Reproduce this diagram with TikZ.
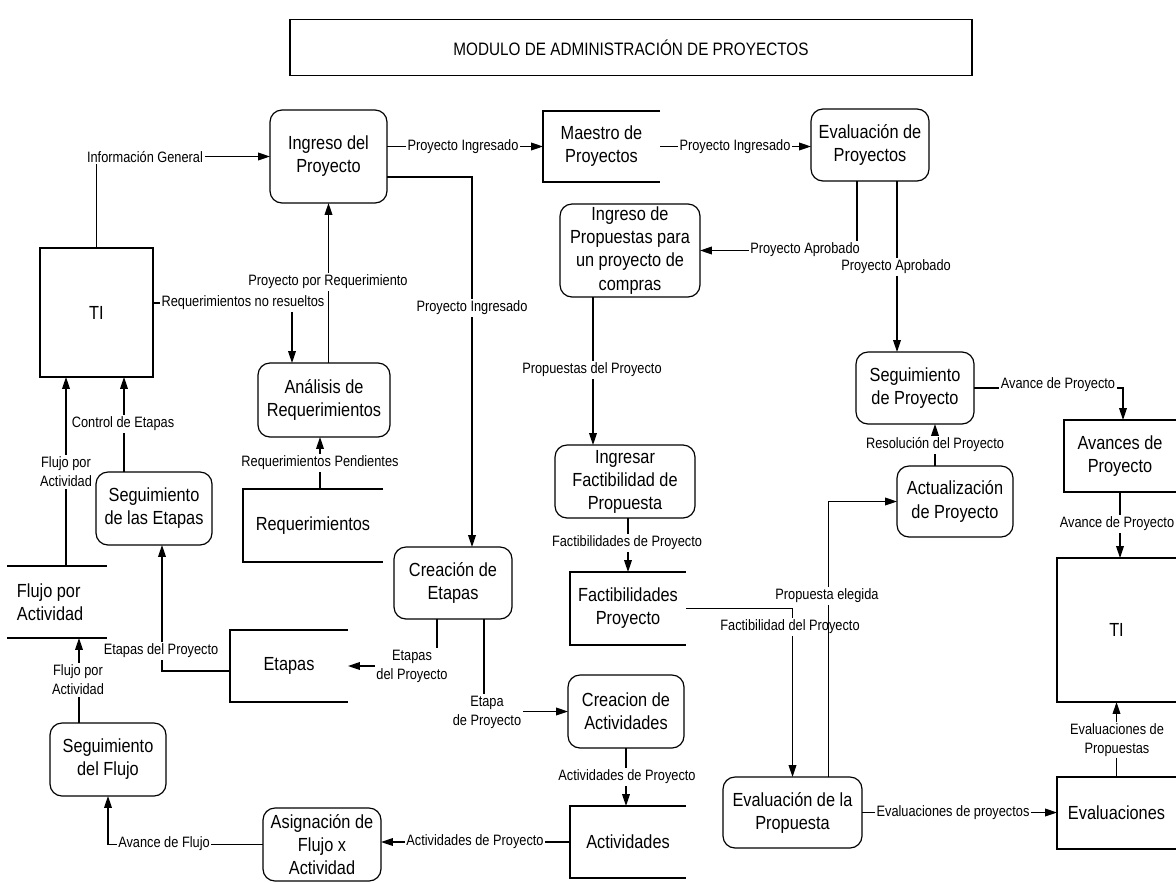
\documentclass[tikz,border=0pt]{standalone}
\usepackage{fontspec}
\setmainfont{Liberation Sans}
\newfontfamily\boxfont{Liberation Sans}[FakeStretch=0.86]
\newfontfamily\flowfont{Liberation Sans}[FakeStretch=0.85]
\usetikzlibrary{arrows.meta,calc}

% store outline: open on the right side
\newcommand\drawstore[1]{\draw (#1.north east) -- (#1.north west) -- (#1.south west) -- (#1.south east);}

\begin{document}
\begin{tikzpicture}[x=0.025cm,y=-0.025cm,
  line width=0.85pt,
  sz/.style 2 args={minimum width=#1*0.025cm,minimum height=#2*0.025cm},
  proc/.style={draw,rounded corners=0.3cm,inner sep=0pt,outer sep=0pt,align=center,
    font=\boxfont\fontsize{13.5pt}{16.4pt}\selectfont},
  store/.style={inner sep=0pt,outer sep=0pt,align=center,
    font=\boxfont\fontsize{13.5pt}{16.4pt}\selectfont},
  ent/.style={draw,inner sep=0pt,outer sep=0pt,align=center,
    font=\boxfont\fontsize{13.5pt}{16.4pt}\selectfont},
  lbl/.style={fill=white,inner sep=1.2pt,align=center,
    font=\flowfont\fontsize{10.7pt}{13.5pt}\selectfont},
  arr/.style={-{Triangle[length=8.5pt,width=5.5pt]}}]

\useasboundingbox[fill=white] (0,0) rectangle (1176,882);

% title
\node[draw,sz={682}{56},inner sep=0pt,font=\flowfont\fontsize{12.8pt}{15pt}\selectfont]
  (title) at (631,47.5) {MODULO DE ADMINISTRACIÓN DE PROYECTOS};

% processes
\node[proc,sz={117}{93}] (ingreso) at (328.5,156.5) {Ingreso del\\Proyecto};
\node[proc,sz={118}{72}] (evalp) at (870,145) {Evaluación de\\Proyectos};
\node[proc,sz={140}{93}] (ingprop) at (630,250.5) {Ingreso de\\Propuestas para\\un proyecto de\\compras};
\node[proc,sz={132}{74}] (analisis) at (324,400) {Análisis de\\Requerimientos};
\node[proc,sz={118}{72}] (segproy) at (915,388) {Seguimiento\\de Proyecto};
\node[proc,sz={116}{71}] (actual) at (955,501.5) {Actualización\\de Proyecto};
\node[proc,sz={140}{73}] (ingfact) at (625,481.5) {Ingresar\\Factibilidad de\\Propuesta};
\node[proc,sz={116}{73}] (segetapas) at (154,508.5) {Seguimiento\\de las Etapas};
\node[proc,sz={118}{72}] (creaetapas) at (453,583) {Creación de\\Etapas};
\node[proc,sz={116}{73}] (creaact) at (626,711.5) {Creacion de\\Actividades};
\node[proc,sz={116}{73}] (segflujo) at (108,759.5) {Seguimiento\\del Flujo};
\node[proc,sz={118}{73}] (asign) at (322,844.5) {Asignación de\\Flujo x\\Actividad};
\node[proc,sz={139}{71}] (evalprop) at (792.5,812.5) {Evaluación de la\\Propuesta};

% data stores
\node[store,sz={117}{71}] (maestro) at (601.5,146.5) {Maestro de\\Proyectos};
\node[store,sz={140}{73}] (reqs) at (313,525.5) {Requerimientos};
\node[store,sz={116}{73}] (facts) at (628,608.5) {Factibilidades\\Proyecto};
\node[store,sz={118}{72}] (etapas) at (289,666) {Etapas};
\node[store,sz={116}{72}] (activ) at (628,842) {Actividades};
\node[store,sz={112}{72}] (avances) at (1120,456) {Avances de\\Proyecto};
\node[store,sz={119}{72}] (evals) at (1116.5,813) {Evaluaciones};
\node[store,sz={100}{72}] (flujo) at (57,602) {};
\node[store,anchor=west,align=left] (flujotxt) at (17,602) {Flujo por\\Actividad};
\drawstore{maestro}
\drawstore{reqs}
\drawstore{facts}
\drawstore{etapas}
\drawstore{activ}
\drawstore{avances}
\drawstore{evals}
\draw (flujo.north west) -- (flujo.north east);
\draw (flujo.south west) -- (flujo.south east);

% external entities
\node[ent,sz={113}{129}] (tiL) at (96.5,312.5) {TI};
\node[store,sz={119}{144}] (tiR) at (1116.5,630) {TI};
\drawstore{tiR}

% flows
\draw[arr] (tiL.north) |- (ingreso.west);
\draw[arr] (ingreso.east |- maestro.west) -- (maestro.west);
\draw[arr] (maestro.east) -- (maestro.east -| evalp.west);
\draw[arr] ($(ingreso.east)+(0,20.5)$) -| ($(creaetapas.north)+(19,0)$);
\draw[arr] ($(tiL.east)+(0,-9.5)$) -| ($(analisis.north)+(-32,0)$);
\draw[arr] (analisis.north -| ingreso.south) -- (ingreso.south);
\draw[arr] ($(reqs.north)+(7,0)$) -- ($(analisis.south)+(-4,0)$);
\coordinate (ce) at ($(segetapas.north)+(-30,0)$);
\draw[arr] (ce) -- (ce |- tiL.south);
\coordinate (fa) at ($(flujo.north)+(9,0)$);
\draw[arr] (fa) -- (fa |- tiL.south);
\coordinate (ff) at ($(segflujo.north)+(-29,0)$);
\draw[arr] (ff) -- (ff |- flujo.south);
\draw[arr] ($(etapas.west)+(0,5)$) -| ($(segetapas.south)+(8,0)$);
\draw[arr] ($(creaetapas.south)+(-16,0)$) |- (etapas.east);
\draw[arr] ($(creaetapas.south)+(31,0)$) |- (creaact.west);
\draw[arr] (creaact.south) -- (creaact.south |- activ.north);
\draw[arr] (activ.west) -- (activ.west -| asign.east);
\draw[arr] (asign.west) -| (segflujo.south);
\draw[arr] ($(evalp.south)+(-13,0)$) |- (ingprop.east);
\coordinate (pa) at ($(evalp.south)+(27,0)$);
\draw[arr] (pa) -- (pa |- segproy.north);
\coordinate (pp) at ($(ingprop.south)+(-37,0)$);
\draw[arr] (pp) -- (pp |- ingfact.north);
\draw[arr] (ingfact.south -| facts.north) -- (facts.north);
\draw[arr] (facts.east) -| (evalprop.north);
\coordinate (rp) at ($(actual.north)+(-20,0)$);
\draw[arr] (rp) -- (rp |- segproy.south);
\draw[arr] (segproy.east) -| ($(avances.north)+(3,0)$);
\draw[arr] (avances.south) -- (avances.south |- tiR.north);
\draw[arr] (evalprop.east) -- (evalprop.east -| evals.west);
\draw[arr] (evals.north) -- (tiR.south);

% flow labels
\node[lbl] (l1) at (145,157) {Información General};
\node[lbl] (l2) at (463,147) {Proyecto Ingresado};
\node[lbl] (l3) at (735,147) {Proyecto Ingresado};
\node[lbl] (l4) at (472,308) {Proyecto Ingresado};
\node[lbl] (l5) at (243,303) {Requerimientos no resueltos};
\node[lbl] (l6) at (328,282) {Proyecto por Requerimiento};
\node[lbl] (l7) at (320,463) {Requerimientos Pendientes};
\node[lbl] (l8) at (123,424) {Control de Etapas};
\node[lbl] (l9) at (66,472) {Flujo por\\Actividad};
\node[lbl] (l10) at (78,680) {Flujo por\\Actividad};
\node[lbl] (l11) at (161,651) {Etapas del Proyecto};
\node[lbl] (l12) at (412,666) {Etapas\\del Proyecto};
\node[lbl] (l13) at (487,712) {Etapa\\de Proyecto};
\node[lbl] (l14) at (627,777) {Actividades de Proyecto};
\node[lbl] (l15) at (475,842) {Actividades de Proyecto};
\node[lbl] (l16) at (164,844) {Avance de Flujo};
\node[lbl] (l17) at (805,250) {Proyecto Aprobado};
\node[lbl] (l18) at (896,267) {Proyecto Aprobado};
\node[lbl] (l19) at (592,370) {Propuestas del Proyecto};
\node[lbl] (l20) at (627,543) {Factibilidades de Proyecto};
\node[lbl] (l21) at (790,627) {Factibilidad del Proyecto};
\node[lbl] (l22) at (935,445) {Resolución del Proyecto};
\node[lbl] (l23) at (1058,385) {Avance de Proyecto};
\node[lbl] (l24) at (1117,524) {Avance de Proyecto};
\node[lbl] (l25) at (953,813) {Evaluaciones de proyectos};
\node[lbl] (l26) at (1117,740) {Evaluaciones de\\Propuestas};

% chosen proposal runs over the feasibility label
\draw[arr] ($(evalprop.north)+(36,0)$) |- (actual.west);
\node[lbl] (l27) at (827,596) {Propuesta elegida};

\end{tikzpicture}
\end{document}
